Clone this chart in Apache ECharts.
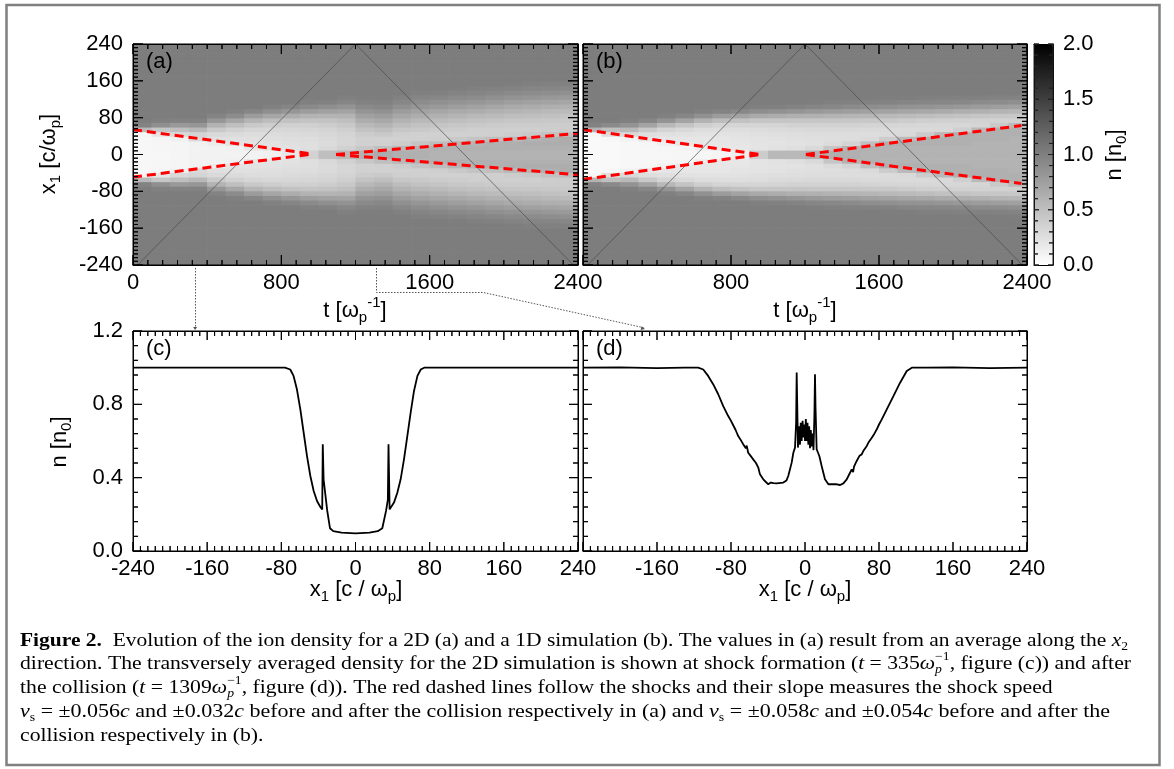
<!DOCTYPE html>
<html><head><meta charset="utf-8">
<script src="https://cdn.jsdelivr.net/npm/echarts@6.0.0/dist/echarts.min.js"></script>
<style>html,body{margin:0;padding:0;background:#fff;}#chart{width:1174px;height:769px;}</style>
</head><body><div id="chart"></div>
<script>
// ================= DATA =================
const tCenters = [50,150,250,350,450,550,650,750,850,950,1050,1150,1250,1350,1450,1550,1650,1750,1850,1950,2050,2150,2250,2350];
const x1Centers = [5,15,25,35,45,55,65,75,85,95,105,115,125,135,145,155,165,175,185,195,205,215,225,235];

// panel (a): 2D simulation, averaged ion density n [n0]; one column per tCenter, rows = x1Centers (mirrored in x1)
const densityA = [
[0.06,0.06,0.06,0.06,0.08,0.55,0.97,1.02,1.02,1.02,1.02,1.02,1.02,1.02,1.02,1.02,1.02,1.02,1.02,1.02,1.02,1.02,1.02,1.02],
[0.07,0.07,0.07,0.08,0.2,0.45,0.88,1.0,1.02,1.02,1.02,1.02,1.02,1.02,1.02,1.02,1.02,1.02,1.02,1.02,1.02,1.02,1.02,1.02],
[0.08,0.08,0.08,0.12,0.3,0.5,0.8,0.98,1.02,1.02,1.02,1.02,1.02,1.02,1.02,1.02,1.02,1.02,1.02,1.02,1.02,1.02,1.02,1.02],
[0.1,0.1,0.11,0.3,0.34,0.56,0.82,0.98,1.02,1.02,1.02,1.02,1.02,1.02,1.02,1.02,1.02,1.02,1.02,1.02,1.02,1.02,1.02,1.02],
[0.1,0.1,0.15,0.25,0.3,0.42,0.6,0.82,0.97,1.02,1.02,1.02,1.02,1.02,1.02,1.02,1.02,1.02,1.02,1.02,1.02,1.02,1.02,1.02],
[0.1,0.12,0.22,0.24,0.28,0.36,0.5,0.7,0.9,1.0,1.02,1.02,1.02,1.02,1.02,1.02,1.02,1.02,1.02,1.02,1.02,1.02,1.02,1.02],
[0.1,0.2,0.22,0.24,0.27,0.32,0.42,0.58,0.78,0.95,1.02,1.02,1.02,1.02,1.02,1.02,1.02,1.02,1.02,1.02,1.02,1.02,1.02,1.02],
[0.12,0.22,0.23,0.25,0.27,0.31,0.39,0.52,0.7,0.88,0.99,1.02,1.02,1.02,1.02,1.02,1.02,1.02,1.02,1.02,1.02,1.02,1.02,1.02],
[0.18,0.23,0.24,0.26,0.28,0.31,0.37,0.48,0.64,0.82,0.96,1.02,1.02,1.02,1.02,1.02,1.02,1.02,1.02,1.02,1.02,1.02,1.02,1.02],
[0.35,0.25,0.25,0.27,0.29,0.32,0.37,0.46,0.6,0.77,0.92,1.0,1.02,1.02,1.02,1.02,1.02,1.02,1.02,1.02,1.02,1.02,1.02,1.02],
[0.5,0.3,0.28,0.29,0.31,0.34,0.39,0.47,0.59,0.74,0.88,0.98,1.02,1.02,1.02,1.02,1.02,1.02,1.02,1.02,1.02,1.02,1.02,1.02],
[0.55,0.36,0.32,0.32,0.34,0.38,0.43,0.5,0.6,0.72,0.85,0.95,1.0,1.02,1.02,1.02,1.02,1.02,1.02,1.02,1.02,1.02,1.02,1.02],
[0.6,0.44,0.36,0.36,0.4,0.47,0.55,0.64,0.74,0.84,0.92,0.98,1.01,1.02,1.02,1.02,1.02,1.02,1.02,1.02,1.02,1.02,1.02,1.02],
[0.65,0.5,0.37,0.36,0.42,0.5,0.6,0.68,0.77,0.86,0.94,0.99,1.01,1.02,1.02,1.02,1.02,1.02,1.02,1.02,1.02,1.02,1.02,1.02],
[0.62,0.56,0.4,0.36,0.38,0.44,0.52,0.6,0.69,0.78,0.87,0.94,0.99,1.02,1.02,1.02,1.02,1.02,1.02,1.02,1.02,1.02,1.02,1.02],
[0.62,0.6,0.46,0.37,0.37,0.42,0.48,0.56,0.64,0.73,0.82,0.9,0.96,1.0,1.02,1.02,1.02,1.02,1.02,1.02,1.02,1.02,1.02,1.02],
[0.6,0.62,0.52,0.38,0.36,0.4,0.46,0.53,0.61,0.7,0.79,0.87,0.94,0.99,1.02,1.02,1.02,1.02,1.02,1.02,1.02,1.02,1.02,1.02],
[0.6,0.62,0.58,0.42,0.36,0.39,0.44,0.5,0.58,0.67,0.76,0.85,0.92,0.97,1.01,1.02,1.02,1.02,1.02,1.02,1.02,1.02,1.02,1.02],
[0.6,0.62,0.6,0.46,0.37,0.38,0.42,0.48,0.55,0.64,0.73,0.82,0.9,0.96,1.0,1.02,1.02,1.02,1.02,1.02,1.02,1.02,1.02,1.02],
[0.6,0.62,0.62,0.5,0.38,0.38,0.41,0.46,0.53,0.61,0.7,0.79,0.87,0.94,0.99,1.02,1.02,1.02,1.02,1.02,1.02,1.02,1.02,1.02],
[0.6,0.62,0.63,0.55,0.4,0.38,0.4,0.45,0.51,0.59,0.67,0.76,0.85,0.92,0.97,1.01,1.02,1.02,1.02,1.02,1.02,1.02,1.02,1.02],
[0.6,0.62,0.64,0.6,0.43,0.38,0.4,0.44,0.5,0.57,0.65,0.74,0.83,0.9,0.96,1.0,1.02,1.02,1.02,1.02,1.02,1.02,1.02,1.02],
[0.6,0.62,0.64,0.62,0.48,0.39,0.4,0.43,0.49,0.55,0.63,0.72,0.81,0.89,0.95,0.99,1.02,1.02,1.02,1.02,1.02,1.02,1.02,1.02],
[0.6,0.62,0.64,0.64,0.52,0.4,0.4,0.42,0.47,0.53,0.61,0.7,0.79,0.87,0.94,0.99,1.02,1.02,1.02,1.02,1.02,1.02,1.02,1.02]
];

// panel (b): 1D simulation
const densityB = [
[0.05,0.05,0.05,0.05,0.07,0.6,0.98,1.02,1.02,1.02,1.02,1.02,1.02,1.02,1.02,1.02,1.02,1.02,1.02,1.02,1.02,1.02,1.02,1.02],
[0.05,0.05,0.05,0.06,0.25,0.5,0.92,1.02,1.02,1.02,1.02,1.02,1.02,1.02,1.02,1.02,1.02,1.02,1.02,1.02,1.02,1.02,1.02,1.02],
[0.06,0.06,0.06,0.1,0.3,0.55,0.85,1.0,1.02,1.02,1.02,1.02,1.02,1.02,1.02,1.02,1.02,1.02,1.02,1.02,1.02,1.02,1.02,1.02],
[0.06,0.06,0.07,0.2,0.26,0.42,0.72,0.95,1.02,1.02,1.02,1.02,1.02,1.02,1.02,1.02,1.02,1.02,1.02,1.02,1.02,1.02,1.02,1.02],
[0.07,0.07,0.12,0.2,0.24,0.34,0.56,0.85,1.0,1.02,1.02,1.02,1.02,1.02,1.02,1.02,1.02,1.02,1.02,1.02,1.02,1.02,1.02,1.02],
[0.07,0.09,0.18,0.2,0.23,0.3,0.46,0.72,0.95,1.02,1.02,1.02,1.02,1.02,1.02,1.02,1.02,1.02,1.02,1.02,1.02,1.02,1.02,1.02],
[0.07,0.14,0.19,0.2,0.22,0.27,0.38,0.6,0.86,1.0,1.02,1.02,1.02,1.02,1.02,1.02,1.02,1.02,1.02,1.02,1.02,1.02,1.02,1.02],
[0.09,0.18,0.19,0.2,0.22,0.26,0.34,0.52,0.78,0.97,1.02,1.02,1.02,1.02,1.02,1.02,1.02,1.02,1.02,1.02,1.02,1.02,1.02,1.02],
[0.14,0.19,0.2,0.21,0.23,0.26,0.33,0.48,0.72,0.93,1.02,1.02,1.02,1.02,1.02,1.02,1.02,1.02,1.02,1.02,1.02,1.02,1.02,1.02],
[0.4,0.21,0.21,0.22,0.24,0.27,0.33,0.45,0.67,0.89,1.0,1.02,1.02,1.02,1.02,1.02,1.02,1.02,1.02,1.02,1.02,1.02,1.02,1.02],
[0.55,0.23,0.22,0.23,0.25,0.28,0.34,0.45,0.64,0.86,0.99,1.02,1.02,1.02,1.02,1.02,1.02,1.02,1.02,1.02,1.02,1.02,1.02,1.02],
[0.55,0.25,0.23,0.24,0.26,0.29,0.35,0.45,0.62,0.83,0.97,1.02,1.02,1.02,1.02,1.02,1.02,1.02,1.02,1.02,1.02,1.02,1.02,1.02],
[0.6,0.3,0.24,0.25,0.27,0.3,0.35,0.45,0.61,0.8,0.95,1.01,1.02,1.02,1.02,1.02,1.02,1.02,1.02,1.02,1.02,1.02,1.02,1.02],
[0.62,0.45,0.28,0.26,0.27,0.3,0.35,0.45,0.6,0.78,0.93,1.0,1.02,1.02,1.02,1.02,1.02,1.02,1.02,1.02,1.02,1.02,1.02,1.02],
[0.62,0.6,0.34,0.27,0.27,0.3,0.35,0.44,0.58,0.76,0.91,0.99,1.02,1.02,1.02,1.02,1.02,1.02,1.02,1.02,1.02,1.02,1.02,1.02],
[0.6,0.62,0.5,0.29,0.27,0.29,0.34,0.43,0.57,0.74,0.89,0.98,1.02,1.02,1.02,1.02,1.02,1.02,1.02,1.02,1.02,1.02,1.02,1.02],
[0.6,0.6,0.62,0.4,0.28,0.29,0.33,0.42,0.55,0.72,0.87,0.97,1.01,1.02,1.02,1.02,1.02,1.02,1.02,1.02,1.02,1.02,1.02,1.02],
[0.6,0.6,0.62,0.55,0.3,0.29,0.32,0.4,0.53,0.7,0.85,0.96,1.01,1.02,1.02,1.02,1.02,1.02,1.02,1.02,1.02,1.02,1.02,1.02],
[0.6,0.6,0.62,0.62,0.4,0.29,0.31,0.38,0.51,0.68,0.84,0.95,1.0,1.02,1.02,1.02,1.02,1.02,1.02,1.02,1.02,1.02,1.02,1.02],
[0.6,0.6,0.62,0.62,0.55,0.3,0.31,0.37,0.49,0.66,0.82,0.94,1.0,1.02,1.02,1.02,1.02,1.02,1.02,1.02,1.02,1.02,1.02,1.02],
[0.6,0.6,0.62,0.62,0.62,0.38,0.31,0.36,0.47,0.63,0.8,0.93,0.99,1.02,1.02,1.02,1.02,1.02,1.02,1.02,1.02,1.02,1.02,1.02],
[0.6,0.6,0.6,0.62,0.62,0.55,0.33,0.35,0.45,0.61,0.78,0.91,0.99,1.02,1.02,1.02,1.02,1.02,1.02,1.02,1.02,1.02,1.02,1.02],
[0.6,0.6,0.6,0.62,0.62,0.62,0.42,0.35,0.44,0.59,0.76,0.9,0.98,1.02,1.02,1.02,1.02,1.02,1.02,1.02,1.02,1.02,1.02,1.02],
[0.6,0.6,0.6,0.6,0.62,0.62,0.55,0.36,0.43,0.57,0.74,0.88,0.97,1.01,1.02,1.02,1.02,1.02,1.02,1.02,1.02,1.02,1.02,1.02]
];

// thin light-cone guide lines (t, x1)
const coneLine = [[25,-240],[1200,240],[2375,-240]];
// red dashed shock trajectories (t, x1)
const shockA_preUpper  = [[0,54],[970,1]];
const shockA_preLower  = [[0,-49],[970,1]];
const shockA_postUpper = [[1095,0],[2400,46]];
const shockA_postLower = [[1095,0],[2400,-44]];
const shockB_preUpper  = [[0,54],[955,0]];
const shockB_preLower  = [[0,-54],[955,0]];
const shockB_postUpper = [[1205,0],[2370,63]];
const shockB_postLower = [[1205,0],[2370,-63]];

// snapshot times of panels (c) and (d)
const snapshotTimes = [335, 1309];

// panel (c): density profile at t = 335
const profileC_x = [-240,-200,-160,-120,-90,-76,-70.4,-66.8,-63.2,-59.5,-55.9,-52.3,-48.7,-45.1,-41.5,-37.9,-35.9,-35.3,-34.9,-34.4,-30.5,-27.5,-24,-15,0,15,24,28.9,33,34.9,35.6,36.2,36.8,37.9,41.5,45.1,48.7,52.3,55.9,59.5,63.1,66.8,70.4,74,90,120,160,200,240];
const profileC_n = [1.0,1.0,1.0,1.0,1.0,1.0,0.99,0.955,0.882,0.773,0.645,0.518,0.409,0.327,0.273,0.24,0.227,0.582,0.58,0.39,0.22,0.124,0.108,0.1,0.096,0.1,0.108,0.124,0.22,0.28,0.582,0.58,0.227,0.236,0.264,0.318,0.391,0.5,0.627,0.755,0.873,0.955,0.99,1.0,1.0,1.0,1.0,1.0,1.0];

// panel (d): density profile at t = 1309
const profileD_x = [-240,-200,-160,-130,-115.5,-110,-104.7,-99.3,-93.8,-88.4,-83,-80,-78,-77,-75,-72.2,-70,-69,-66.8,-64,-63,-61.4,-59,-58,-56,-53,-52,-50.5,-48.7,-45.1,-42,-39.7,-37,-34,-30.7,-23.5,-20,-18.1,-14.4,-12.6,-10.8,-9.6,-9,-8.4,-7.6,-6.6,-5.4,-4.6,-3.6,-2.6,-1.8,-0.8,0,0.9,1.8,2.7,3.6,4.5,5.4,6.3,7.2,8.2,9.2,10.2,10.8,11.4,12.6,15.5,18,21.6,25.3,30,34.3,38,41.5,45.1,48,50.5,52,53,55.9,58,59,61.3,63,64,66.8,69,70,72.2,75,77.6,80,83,88.4,95.6,102.8,110,115.5,130,160,200,240];
const profileD_n = [1.0,1.002,0.998,1.0,1.0,0.99,0.955,0.91,0.855,0.79,0.736,0.71,0.69,0.7,0.66,0.627,0.61,0.62,0.582,0.56,0.575,0.536,0.52,0.53,0.5,0.48,0.49,0.455,0.418,0.391,0.375,0.364,0.373,0.37,0.369,0.373,0.385,0.409,0.482,0.536,0.564,0.7,0.973,0.8,0.564,0.68,0.58,0.7,0.6,0.71,0.62,0.69,0.6,0.72,0.6,0.7,0.58,0.68,0.56,0.66,0.57,0.64,0.55,0.75,0.964,0.78,0.555,0.518,0.464,0.391,0.364,0.364,0.364,0.36,0.369,0.391,0.42,0.445,0.43,0.46,0.491,0.5,0.52,0.527,0.545,0.535,0.573,0.595,0.59,0.618,0.64,0.664,0.69,0.718,0.773,0.845,0.918,0.982,1.0,1.0,1.002,0.998,1.0];

// tick labels
const tTicks   = [0,800,1600,2400];
const x1Ticks  = [-240,-160,-80,0,80,160,240];
const nTicks   = [0,0.4,0.8,1.2];
const cbTicks  = [0,0.5,1.0,1.5,2.0];

// caption text
const captionLines = [
  [{t:'Figure 2.',w:'bold'},{t:'  Evolution of the ion density for a 2D (a) and a 1D simulation (b). The values in (a) result from an average along the '},{t:'x',s:'italic'},{t:'2',sub:1}],
  [{t:'direction. The transversely averaged density for the 2D simulation is shown at shock formation ('},{t:'t',s:'italic'},{t:' = 335'},{t:'ω',s:'italic'},{t:'p',s:'italic',sub:1},{t:'−1',sup:1,stack:1},{t:', figure (c)) and after'}],
  [{t:'the collision ('},{t:'t',s:'italic'},{t:' = 1309'},{t:'ω',s:'italic'},{t:'p',s:'italic',sub:1},{t:'−1',sup:1,stack:1},{t:', figure (d)). The red dashed lines follow the shocks and their slope measures the shock speed'}],
  [{t:'v',s:'italic'},{t:'s',sub:1},{t:' = ±0.056'},{t:'c',s:'italic'},{t:' and ±0.032'},{t:'c',s:'italic'},{t:' before and after the collision respectively in (a) and '},{t:'v',s:'italic'},{t:'s',sub:1},{t:' = ±0.058'},{t:'c',s:'italic'},{t:' and ±0.054'},{t:'c',s:'italic'},{t:' before and after the'}],
  [{t:'collision respectively in (b).'}]
];

// ================= RENDERING =================
const SANS = "'Liberation Sans', Arial, Helvetica, sans-serif";
const SERIF = "'Liberation Serif', 'Times New Roman', serif";
const meas = document.createElement('canvas').getContext('2d');
const ZTOP = 100;

function buildCells(table){
  const dt = (tCenters[1]-tCenters[0])/2, dx = (x1Centers[1]-x1Centers[0])/2;
  const out = [];
  table.forEach((col,i)=>col.forEach((n,j)=>{
    const t = tCenters[i], x = x1Centers[j];
    out.push([t-dt, t+dt, x-dx, x+dx, n]);
    out.push([t-dt, t+dt, -x-dx, -x+dx, n]);
  }));
  return out;
}
function renderCell(params, api){
  const a = api.coord([api.value(0), api.value(3)]);
  const b = api.coord([api.value(1), api.value(2)]);
  return {type:'rect', shape:{x:a[0], y:a[1], width:b[0]-a[0]+0.7, height:b[1]-a[1]+0.7},
          style:{fill: api.visual('color')}};
}
function pairs(xs, ys){ return xs.map((x,i)=>[x, ys[i]]); }

function valAxis(grid, ticks, pos, o){
  return {
    type:'value', gridIndex:grid, position:pos, min:ticks[0], max:ticks[ticks.length-1],
    interval: ticks[1]-ticks[0], z:10,
    axisLine:{show:true, onZero:false, lineStyle:{color:'#000', width:1}},
    axisTick:{show:false}, minorTick:{show:false},
    splitLine:{show:false}, minorSplitLine:{show:false}, axisPointer:{show:false},
    axisLabel:{show:!!o.labels, color:'#000', fontSize:22, fontFamily:SANS, margin:o.margin||8,
      showMinLabel: !o.hideMin, showMaxLabel: true, formatter: o.fmt || (v=>String(v))}
  };
}
const fmt1 = v => v.toFixed(1);

const grids = [
  {left:133, top:44, width:445, height:221},
  {left:583, top:44, width:444, height:221},
  {left:133, top:331, width:445, height:220},
  {left:583, top:331, width:444, height:220},
  {left:1034, top:44, width:19, height:221}
];
const xAxes = [
  valAxis(0, tTicks, 'bottom', {labels:1, margin:7}),
  valAxis(0, tTicks, 'top', {}),
  valAxis(1, tTicks, 'bottom', {labels:1, margin:7, hideMin:1}),
  valAxis(1, tTicks, 'top', {}),
  valAxis(2, x1Ticks, 'bottom', {labels:1, margin:7}),
  valAxis(2, x1Ticks, 'top', {}),
  valAxis(3, x1Ticks, 'bottom', {labels:1, margin:7, hideMin:1}),
  valAxis(3, x1Ticks, 'top', {}),
  valAxis(4, [0,1], 'bottom', {}),
  valAxis(4, [0,1], 'top', {})
];
const yAxes = [
  valAxis(0, x1Ticks, 'left', {labels:1, margin:10}),
  valAxis(0, x1Ticks, 'right', {}),
  valAxis(1, x1Ticks, 'left', {}),
  valAxis(1, x1Ticks, 'right', {}),
  valAxis(2, nTicks, 'left', {labels:1, margin:10, fmt:fmt1}),
  valAxis(2, nTicks, 'right', {}),
  valAxis(3, nTicks, 'left', {}),
  valAxis(3, nTicks, 'right', {}),
  valAxis(4, cbTicks, 'left', {}),
  valAxis(4, cbTicks, 'right', {labels:1, margin:10, fmt:fmt1})
];

function lineS(data, ax, style, z){
  return {type:'line', xAxisIndex:ax, yAxisIndex:ax, data:data, symbol:'none', silent:true,
          lineStyle:style, z:z||3, clip:true, animation:false};
}
const coneStyle = {color:'#4a4a4a', width:0.7};
const redStyle = {color:'#ff0000', width:3, type:[9,5]};
const profStyle = {color:'#000', width:1.8};

// ---- tick marks drawn as comb-shaped line series along each panel side ----
function tickValues(ticks, split){
  const maj = ticks.slice(), mnr = [];
  for (let i=0;i<ticks.length-1;i++){
    for (let k=1;k<split;k++) mnr.push(ticks[i] + (ticks[i+1]-ticks[i])*k/split);
  }
  return {maj:maj, mnr:mnr};
}
function tickLineSeries(g, xt, xs, yt, ys, majLen, minLen, withX, color){
  const X = tickValues(xt, xs), Y = tickValues(yt, ys);
  const xa = xt[0], xb = xt[xt.length-1], ya = yt[0], yz = yt[yt.length-1];
  const ux = (xb-xa)/grids[g].width, uy = (yz-ya)/grids[g].height;
  const xl = X.maj.map(v=>[v,majLen]).concat(X.mnr.map(v=>[v,minLen])).sort((p,q)=>p[0]-q[0]);
  const yl = Y.maj.map(v=>[v,majLen]).concat(Y.mnr.map(v=>[v,minLen])).sort((p,q)=>p[0]-q[0]);
  const sides = [];
  if (withX) {
    const bot = [], top = [];
    xl.forEach(p=>{ bot.push([p[0],ya],[p[0],ya+p[1]*uy],[p[0],ya]); top.push([p[0],yz],[p[0],yz-p[1]*uy],[p[0],yz]); });
    sides.push(bot, top);
  }
  const lef = [], rig = [];
  yl.forEach(p=>{ lef.push([xa,p[0]],[xa+p[1]*ux,p[0]],[xa,p[0]]); rig.push([xb,p[0]],[xb-p[1]*ux,p[0]],[xb,p[0]]); });
  sides.push(lef, rig);
  return sides.map(d=>({type:'line', xAxisIndex:2*g, yAxisIndex:2*g, data:d, symbol:'none', silent:true,
    clip:false, z:20, animation:false, lineStyle:{color:color||'#000', width:1}}));
}

const series = [
  {type:'custom', xAxisIndex:0, yAxisIndex:0, data:buildCells(densityA), encode:{x:[0,1], y:[2,3]},
   renderItem:renderCell, clip:true, silent:true, z:1, animation:false},
  {type:'custom', xAxisIndex:2, yAxisIndex:2, data:buildCells(densityB), encode:{x:[0,1], y:[2,3]},
   renderItem:renderCell, clip:true, silent:true, z:1, animation:false},
  lineS(coneLine, 0, coneStyle, 2),
  lineS(coneLine, 2, coneStyle, 2),
  lineS(shockA_preUpper, 0, redStyle), lineS(shockA_preLower, 0, redStyle),
  lineS(shockA_postUpper, 0, redStyle), lineS(shockA_postLower, 0, redStyle),
  lineS(shockB_preUpper, 2, redStyle), lineS(shockB_preLower, 2, redStyle),
  lineS(shockB_postUpper, 2, redStyle), lineS(shockB_postLower, 2, redStyle),
  lineS(pairs(profileC_x, profileC_n), 4, profStyle),
  lineS(pairs(profileD_x, profileD_n), 6, profStyle)
].concat(
  tickLineSeries(0, tTicks, 10, x1Ticks, 10, 10, 5, true),
  tickLineSeries(1, tTicks, 10, x1Ticks, 10, 10, 5, true),
  tickLineSeries(2, x1Ticks, 10, nTicks, 5, 9, 5, true),
  tickLineSeries(3, x1Ticks, 10, nTicks, 5, 9, 5, true),
  tickLineSeries(4, [0,1], 1, cbTicks, 5, 5, 4, false, '#222')
);

function runsGroup(runs, b){
  let cx = 0, prevStart = 0;
  const kids = [];
  runs.forEach(r=>{
    const size = (r.sub||r.sup) ? Math.round(b.size*(b.subScale||0.68)) : b.size;
    const style = r.s||'normal', weight = r.w||'normal';
    meas.font = `${style} ${weight} ${size}px ${b.family}`;
    const w = meas.measureText(r.t).width;
    const x = r.stack ? prevStart : cx;
    const dy = r.sub ? b.size*0.3 : r.sup ? -b.size*0.36 : 0;
    kids.push({type:'text', x:x, y:dy, silent:true, z:ZTOP,
      style:{text:r.t, fontSize:size, fontFamily:b.family, fontStyle:style, fontWeight:weight,
             fill:'#000', align:'left', verticalAlign:'middle'}});
    if (r.stack) cx = Math.max(cx, prevStart + w); else { prevStart = x; cx = x + w; }
  });
  const off = b.align==='center' ? -cx/2 : 0;
  kids.forEach(k=>{ k.x += off; });
  const sx = b.scaleX||1;
  return {group:{type:'group', x:b.x, y:b.y, rotation:b.rotation||0, scaleX:sx, children:kids, silent:true}, width:cx};
}

const chart = echarts.init(document.getElementById('chart'), null, {renderer:'canvas'});
chart.setOption({
  animation:false,
  backgroundColor:'#ffffff',
  grid: grids,
  xAxis: xAxes,
  yAxis: yAxes,
  visualMap: [{
    type:'continuous', min:cbTicks[0], max:cbTicks[cbTicks.length-1], dimension:4, seriesIndex:[0,1],
    inRange:{color:['#ffffff','#000000']}, orient:'vertical',
    left:1034, top:44, itemWidth:19, itemHeight:221, padding:0,
    calculable:false, hoverLink:false, text:null, z:1
  }],
  series: series
});

const G = [];
const rnd = v => Math.round(v) + 0.5;
function px(g, v){ return chart.convertToPixel({gridIndex:g}, v); }

// frame round the whole figure (outline only)
G.push({type:'rect', z:0, shape:{x:6.5, y:5, width:1153, height:760}, style:{fill:'transparent', stroke:'#808080', lineWidth:2.5}, silent:true});

// panel letters
[['(a)',146,62],['(b)',596,62],['(c)',146,349],['(d)',596,349]].forEach(p=>{
  G.push({type:'text', x:p[1], y:p[2], silent:true, z:ZTOP,
    style:{text:p[0], fontSize:22, fontFamily:SANS, fill:'#000', align:'left', verticalAlign:'middle'}});
});

const tTitle = [{t:'t [ω'},{t:'p',sub:1},{t:'-1',sup:1},{t:']'}];
const xTitleTop = [{t:'x'},{t:'1',sub:1},{t:' [c/ω'},{t:'p',sub:1},{t:']'}];
const xTitleBot = [{t:'x'},{t:'1',sub:1},{t:' [c / ω'},{t:'p',sub:1},{t:']'}];
const nTitle = [{t:'n [n'},{t:'0',sub:1},{t:']'}];
const tb = {size:22, family:SANS, align:'center'};
G.push(runsGroup(tTitle, Object.assign({x:355, y:311}, tb)).group);
G.push(runsGroup(tTitle, Object.assign({x:805, y:311}, tb)).group);
G.push(runsGroup(xTitleTop, Object.assign({x:49, y:154, rotation:Math.PI/2}, tb)).group);
G.push(runsGroup(xTitleBot, Object.assign({x:356, y:590}, tb)).group);
G.push(runsGroup(xTitleBot, Object.assign({x:805, y:590}, tb)).group);
G.push(runsGroup(nTitle, Object.assign({x:60, y:442, rotation:Math.PI/2}, tb)).group);
G.push(runsGroup(nTitle, Object.assign({x:1115, y:155, rotation:Math.PI/2}, tb)).group);

// connectors from panel (a) snapshot times to panels (c) and (d)
const p1 = px(0, [snapshotTimes[0], -240]);
const p2 = px(0, [snapshotTimes[1], -240]);
const cTop = px(2, [0, 1.2]);
const dEnd = px(3, [-173, 1.2]);
const bend = px(0, [1890, -240]);
const connStyle = {stroke:'#555', lineWidth:1, lineDash:[1.5,1.5], fill:'transparent'};
G.push({type:'polyline', z:ZTOP, shape:{points:[[rnd(p1[0]), p1[1]+3],[rnd(p1[0]), cTop[1]-3]]}, style:connStyle, silent:true});
G.push({type:'polygon', z:ZTOP, shape:{points:[[p1[0]-2, cTop[1]-4],[p1[0]+2, cTop[1]-4],[p1[0], cTop[1]-1]]}, style:{fill:'#555'}, silent:true});
const yb = rnd(p2[1]+27);
G.push({type:'polyline', z:ZTOP, shape:{points:[[rnd(p2[0]), p2[1]+3],[rnd(p2[0]), yb],[bend[0], yb],[dEnd[0], dEnd[1]-3]]}, style:connStyle, silent:true});
(function(){
  const dx = dEnd[0]-bend[0], dy = (dEnd[1]-3)-yb, L = Math.hypot(dx,dy), ux = dx/L, uy = dy/L;
  const tip = [dEnd[0], dEnd[1]-2], base = [tip[0]-ux*4, tip[1]-uy*4];
  G.push({type:'polygon', z:ZTOP, shape:{points:[tip,[base[0]-uy*2, base[1]+ux*2],[base[0]+uy*2, base[1]-ux*2]]}, style:{fill:'#555'}, silent:true});
})();

// caption
const capX = 20, capY = [641, 664, 688, 712, 736];
const capTargets = [1128, 1131, null, 1110, null];
const capBase = {size:19, family:SERIF, subScale:0.65};
const natural = captionLines.map(l=>runsGroup(l, Object.assign({x:0,y:0}, capBase)).width);
const refScale = (capTargets[1]-capX)/natural[1];
captionLines.forEach((l,i)=>{
  const sx = capTargets[i] ? (capTargets[i]-capX)/natural[i] : refScale;
  G.push(runsGroup(l, Object.assign({x:capX, y:capY[i], scaleX:sx}, capBase)).group);
});

chart.setOption({graphic:{elements:G}});
</script>
</body></html>
